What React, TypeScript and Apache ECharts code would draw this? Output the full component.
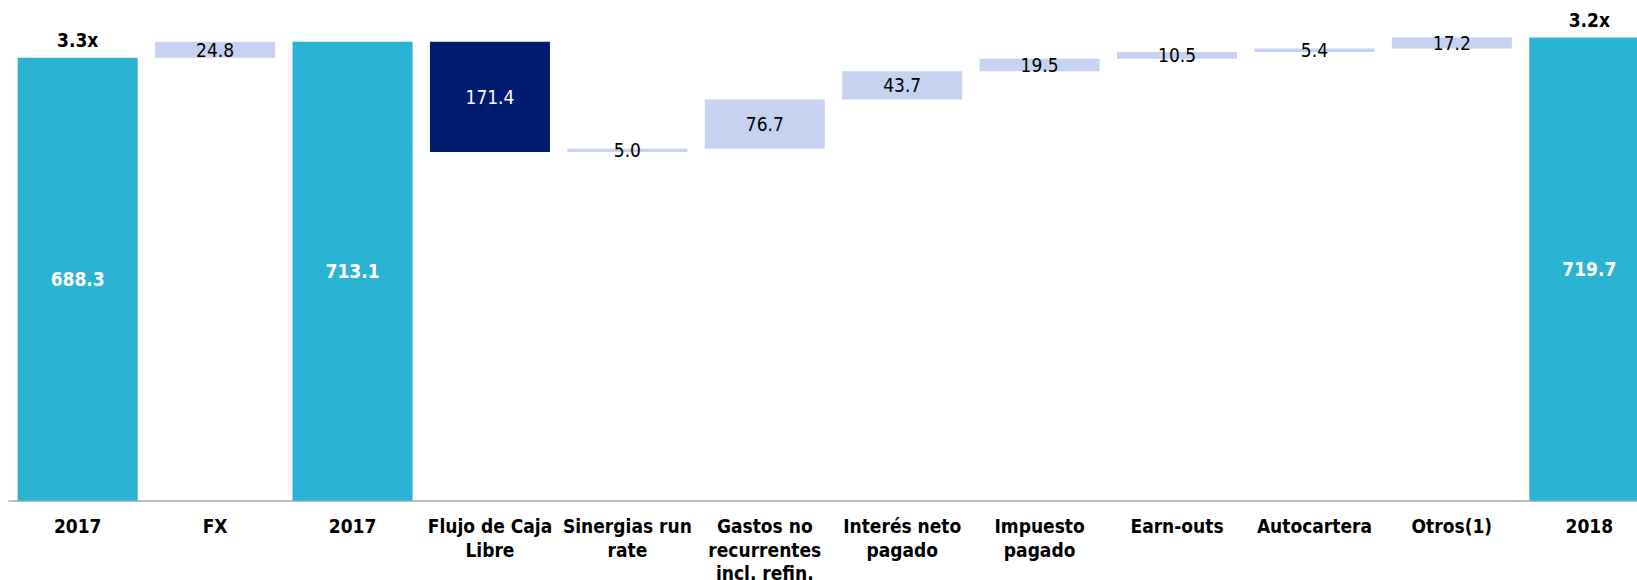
import React, { useEffect, useRef } from "react";
import * as echarts from "echarts";

const categories = [
  "2017",
  "FX",
  "2017",
  "Flujo de Caja\nLibre",
  "Sinergias run\nrate",
  "Gastos no\nrecurrentes\nincl. refin.",
  "Interés neto\npagado",
  "Impuesto\npagado",
  "Earn-outs",
  "Autocartera",
  "Otros(1)",
  "2018",
];
const values = [688.3, 24.8, 713.1, -171.4, 5.0, 76.7, 43.7, 19.5, 10.5, 5.4, 17.2, 719.7];
const kinds = ["total", "delta", "total", "delta", "delta", "delta", "delta", "delta", "delta", "delta", "delta", "total"];
const multiples = ["3.3x", "", "", "", "", "", "", "", "", "", "", "3.2x"];

const TEAL = "#2BB3D3";
const NAVY = "#001C71";
const LIGHT = "#C6D2EF";
const FONT = "'DejaVu Sans Condensed', 'Liberation Sans', sans-serif";

export default function App() {
  const ref = useRef<HTMLDivElement>(null);
  useEffect(() => {
    if (!ref.current) return;
    const chart = echarts.init(ref.current, null, { renderer: "svg" });

    const bases: number[] = [];
    const heights: any[] = [];
    let running = 0;
    values.forEach((v, i) => {
      if (kinds[i] === "total") {
        bases.push(0);
        running = v;
        heights.push({
          value: v,
          itemStyle: { color: TEAL },
          label: { color: "#fff", fontWeight: "bold" },
        });
      } else {
        const start = running;
        const end = running + v;
        bases.push(Math.min(start, end));
        running = end;
        const neg = v < 0;
        heights.push({
          value: Math.abs(v),
          itemStyle: { color: neg ? NAVY : LIGHT },
          label: { color: neg ? "#fff" : "#000", fontWeight: "normal" },
        });
      }
    });
    const topVals = values.map((v, i) =>
      multiples[i] ? { value: v, label: { show: true } } : { value: 0, label: { show: false } }
    );

    chart.setOption({
      animation: false,
      grid: {
        left: 9,
        top: 0,
        width: 1649,
        height: 500.7,
        containLabel: false,
        outerBoundsMode: "none",
      },
      xAxis: {
        type: "category",
        data: categories,
        axisLine: { show: true, lineStyle: { color: "#A6A6A6", width: 1.5 } },
        axisTick: { show: false },
        axisLabel: {
          interval: 0,
          margin: 14,
          fontFamily: FONT,
          fontSize: 19,
          fontWeight: "bold",
          color: "#000",
          lineHeight: 23.5,
        },
      },
      yAxis: { type: "value", min: 0, max: 778, show: false, splitLine: { show: false } },
      series: [
        {
          type: "bar",
          stack: "w",
          data: bases,
          barWidth: 120,
          itemStyle: { color: "transparent" },
          silent: true,
        },
        {
          type: "bar",
          stack: "w",
          data: heights,
          barWidth: 120,
          label: {
            show: true,
            position: "inside",
            fontFamily: FONT,
            fontSize: 19,
            formatter: (p: any) => Number(p.value).toFixed(1),
          },
        },
        {
          type: "bar",
          data: topVals,
          barWidth: 120,
          barGap: "-100%",
          itemStyle: { color: "transparent" },
          label: {
            position: "top",
            distance: 8,
            fontFamily: FONT,
            fontSize: 19,
            fontWeight: "bold",
            color: "#000",
            formatter: (p: any) => multiples[p.dataIndex],
          },
          silent: true,
        },
      ],
    });
    return () => chart.dispose();
  }, []);
  return (
    <div
      ref={ref}
      style={{ position: "absolute", left: 0, top: 0, width: 1637, height: 580 }}
    />
  );
}
